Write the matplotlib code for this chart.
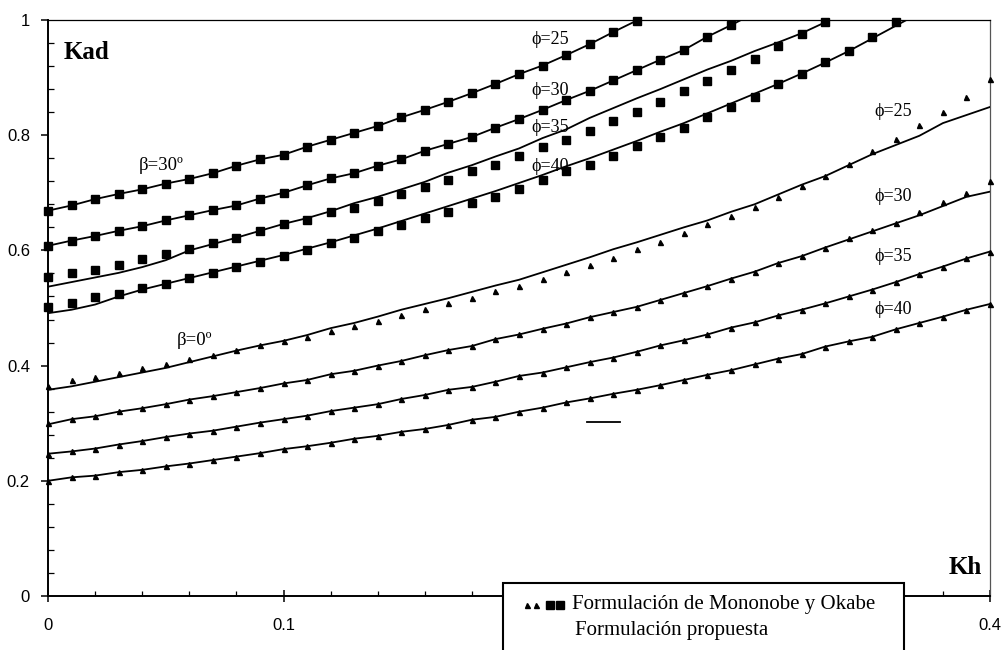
import numpy as np
import matplotlib.pyplot as plt
from matplotlib.patches import Rectangle
from matplotlib.lines import Line2D
from matplotlib.ticker import MultipleLocator, FuncFormatter

# Kh values, one point every 0.01
kh = np.linspace(0, 0.4, 41)

# beta = 30 deg, Mononobe-Okabe (squares)
mo30_25 = [0.669, 0.678, 0.689, 0.698, 0.706, 0.716, 0.724, 0.734, 0.747, 0.758, 0.766,
           0.780, 0.792, 0.804, 0.816, 0.831, 0.844, 0.858, 0.873, 0.889, 0.906,
           0.921, 0.939, 0.958, 0.979, 0.999]
mo30_30 = [0.608, 0.617, 0.625, 0.634, 0.642, 0.652, 0.661, 0.670, 0.678, 0.690, 0.700,
           0.713, 0.725, 0.734, 0.747, 0.758, 0.773, 0.785, 0.797, 0.813, 0.828,
           0.844, 0.861, 0.877, 0.895, 0.913, 0.931, 0.948, 0.971, 0.991]
mo30_35 = [0.553, 0.561, 0.566, 0.574, 0.585, 0.594, 0.603, 0.612, 0.622, 0.634, 0.646,
           0.653, 0.667, 0.674, 0.685, 0.698, 0.710, 0.722, 0.737, 0.748, 0.764,
           0.779, 0.792, 0.807, 0.825, 0.840, 0.858, 0.877, 0.894, 0.913, 0.933,
           0.955, 0.976, 0.996]
mo30_40 = [0.502, 0.509, 0.519, 0.525, 0.534, 0.542, 0.552, 0.560, 0.571, 0.580, 0.591,
           0.601, 0.612, 0.622, 0.634, 0.644, 0.656, 0.667, 0.683, 0.693, 0.706,
           0.722, 0.737, 0.748, 0.764, 0.782, 0.797, 0.812, 0.831, 0.849, 0.867,
           0.889, 0.906, 0.927, 0.946, 0.970, 0.996]

# beta = 30 deg, proposed formulation (lines)
pr30_25 = mo30_25 + [1.020]
pr30_30 = mo30_30 + [1.012]
pr30_35 = [0.537, 0.545, 0.553, 0.561, 0.571, 0.583, 0.600, 0.611, 0.622, 0.634, 0.646,
           0.656, 0.668, 0.682, 0.693, 0.706, 0.719, 0.735, 0.748, 0.763, 0.777,
           0.795, 0.810, 0.830, 0.847, 0.864, 0.880, 0.897, 0.914, 0.929, 0.946,
           0.961, 0.977, 0.996, 1.016]
pr30_40 = [0.491, 0.497, 0.506, 0.520, 0.532, 0.542, 0.552, 0.562, 0.572, 0.582, 0.592,
           0.603, 0.614, 0.626, 0.638, 0.651, 0.664, 0.677, 0.690, 0.703, 0.717,
           0.731, 0.746, 0.760, 0.775, 0.790, 0.806, 0.821, 0.838, 0.855, 0.872,
           0.889, 0.907, 0.926, 0.946, 0.968, 0.990, 1.012]

# beta = 0 deg, Mononobe-Okabe (triangles)
mo0_25 = [0.365, 0.375, 0.381, 0.388, 0.396, 0.403, 0.411, 0.418, 0.427, 0.436, 0.442,
          0.450, 0.460, 0.469, 0.478, 0.488, 0.499, 0.508, 0.517, 0.530, 0.538,
          0.550, 0.563, 0.575, 0.587, 0.602, 0.615, 0.630, 0.645, 0.660, 0.675,
          0.693, 0.711, 0.729, 0.750, 0.772, 0.793, 0.818, 0.840, 0.867, 0.898]
mo0_30 = [0.301, 0.308, 0.313, 0.321, 0.326, 0.333, 0.341, 0.347, 0.354, 0.361, 0.369,
          0.375, 0.385, 0.391, 0.400, 0.408, 0.418, 0.427, 0.434, 0.446, 0.454,
          0.464, 0.473, 0.484, 0.493, 0.502, 0.514, 0.526, 0.538, 0.551, 0.563,
          0.578, 0.590, 0.605, 0.621, 0.635, 0.648, 0.666, 0.684, 0.699, 0.720]
mo0_35 = [0.247, 0.251, 0.256, 0.263, 0.269, 0.276, 0.282, 0.287, 0.294, 0.301, 0.307,
          0.313, 0.321, 0.327, 0.333, 0.342, 0.349, 0.358, 0.363, 0.372, 0.382,
          0.388, 0.397, 0.406, 0.414, 0.424, 0.435, 0.444, 0.454, 0.466, 0.475,
          0.487, 0.497, 0.508, 0.520, 0.532, 0.545, 0.559, 0.572, 0.586, 0.598]
mo0_40 = [0.200, 0.206, 0.209, 0.215, 0.219, 0.225, 0.230, 0.236, 0.242, 0.248, 0.255,
          0.260, 0.266, 0.273, 0.278, 0.285, 0.290, 0.297, 0.306, 0.311, 0.320,
          0.327, 0.336, 0.343, 0.351, 0.358, 0.366, 0.375, 0.384, 0.392, 0.402,
          0.412, 0.420, 0.433, 0.442, 0.450, 0.463, 0.474, 0.485, 0.497, 0.507]

# beta = 0 deg, proposed formulation (lines)
pr0_25 = [0.358, 0.364, 0.372, 0.380, 0.388, 0.396, 0.406, 0.416, 0.426, 0.435, 0.443,
          0.453, 0.465, 0.474, 0.485, 0.497, 0.507, 0.517, 0.528, 0.539, 0.549,
          0.562, 0.575, 0.588, 0.602, 0.614, 0.627, 0.640, 0.652, 0.667, 0.680,
          0.697, 0.714, 0.729, 0.748, 0.767, 0.783, 0.799, 0.821, 0.835, 0.849]
pr0_30 = [0.298, 0.307, 0.312, 0.320, 0.326, 0.333, 0.341, 0.347, 0.354, 0.361, 0.369,
          0.375, 0.385, 0.391, 0.400, 0.408, 0.418, 0.427, 0.434, 0.446, 0.454,
          0.464, 0.473, 0.484, 0.493, 0.502, 0.514, 0.526, 0.538, 0.551, 0.563,
          0.578, 0.590, 0.605, 0.619, 0.633, 0.647, 0.661, 0.677, 0.693, 0.702]
pr0_35 = mo0_35
pr0_40 = mo0_40

squares = [mo30_25, mo30_30, mo30_35, mo30_40]
triangles = [mo0_25, mo0_30, mo0_35, mo0_40]
lines = [pr30_25, pr30_30, pr30_35, pr30_40, pr0_25, pr0_30, pr0_35, pr0_40]

# x tick labels: 0.2 and 0.3 sit under the legend box in the original
xtick_text = {0.0: '0', 0.1: '0.1', 0.4: '0.4'}

serif = ['Liberation Serif', 'DejaVu Serif']
sans = ['Liberation Sans', 'DejaVu Sans']

fig = plt.figure(figsize=(10.05, 6.5), dpi=100)
ax = fig.add_axes([48/1005, 54/650, 942/1005, 576/650])

for y in lines:
    ax.plot(kh[:len(y)], y, color='black', lw=1.3, zorder=3)
for y in squares:
    ax.plot(kh[:len(y)], y, ls='none', marker='s', ms=6.3, color='black',
            clip_on=False, zorder=4)
for y in triangles:
    ax.plot(kh[:len(y)], y, ls='none', marker='^', ms=3.6, color='black',
            clip_on=False, zorder=4)

ax.set_xlim(0, 0.4)
ax.set_ylim(0, 1)
ax.xaxis.set_major_locator(MultipleLocator(0.1))
ax.xaxis.set_minor_locator(MultipleLocator(0.02))
ax.yaxis.set_major_locator(MultipleLocator(0.2))
ax.yaxis.set_minor_locator(MultipleLocator(0.04))
ax.xaxis.set_major_formatter(FuncFormatter(lambda v, p: xtick_text.get(round(v, 2), '')))
ax.yaxis.set_major_formatter(FuncFormatter(lambda v, p: '%g' % round(v, 2)))
ax.tick_params(axis='x', which='major', direction='inout', length=8, width=1.1, pad=12)
ax.tick_params(axis='x', which='minor', direction='in', length=3.5, width=0.9)
ax.tick_params(axis='y', which='major', direction='out', length=5, width=1.1, pad=8)
ax.tick_params(axis='y', which='minor', direction='in', length=4, width=0.9)
for lab in ax.get_xticklabels() + ax.get_yticklabels():
    lab.set_family(sans)
    lab.set_fontsize(12)

ax.spines['left'].set_linewidth(1.4)
ax.spines['bottom'].set_linewidth(1.4)
ax.spines['top'].set_linewidth(0.9)
ax.spines['right'].set_linewidth(0.9)
ax.spines['right'].set_color('#555555')

ax.text(0.0162, 0.944, 'Kad', family=serif, fontsize=18, fontweight='bold',
        ha='center', va='center')
ax.text(0.3894, 0.050, 'Kh', family=serif, fontsize=18, fontweight='bold',
        ha='center', va='center')
ax.text(0.048, 0.748, 'β=30º', family=serif, fontsize=13.5, ha='center', va='center')
ax.text(0.0621, 0.443, 'β=0º', family=serif, fontsize=13.5, ha='center', va='center')
for yy, t in zip([0.967, 0.878, 0.8125, 0.745], ['25', '30', '35', '40']):
    ax.text(0.2132, yy, 'ϕ=' + t, family=serif, fontsize=13, ha='center', va='center')
for yy, t in zip([0.842, 0.693, 0.590, 0.497], ['25', '30', '35', '40']):
    ax.text(0.3587, yy, 'ϕ=' + t, family=serif, fontsize=13, ha='center', va='center')

# stray legend line sample, left inside the plot
ax.plot([0.229, 0.243], [0.302, 0.302], color='black', lw=1.3)

# legend box, partly outside the figure
fig.patches.append(Rectangle((503/1005, -0.01), 401/1005, 0.1131,
                             transform=fig.transFigure, facecolor='white',
                             edgecolor='black', lw=1.5, zorder=10))
for px, m, s in [(527, '^', 3.6), (536, '^', 3.6), (550, 's', 6.3), (560, 's', 6.3)]:
    fig.lines.append(Line2D([px/1005], [1 - 605/650], marker=m, ms=s, color='black',
                            ls='none', transform=fig.transFigure, zorder=11))
fig.text(572/1005, 1 - 605/650, 'Formulación de Mononobe y Okabe', family=serif,
         fontsize=15, ha='left', va='center', zorder=11)
fig.text(575/1005, 1 - 630/650, 'Formulación propuesta', family=serif,
         fontsize=15, ha='left', va='center', zorder=11)

fig.savefig('out.png', dpi=100)
